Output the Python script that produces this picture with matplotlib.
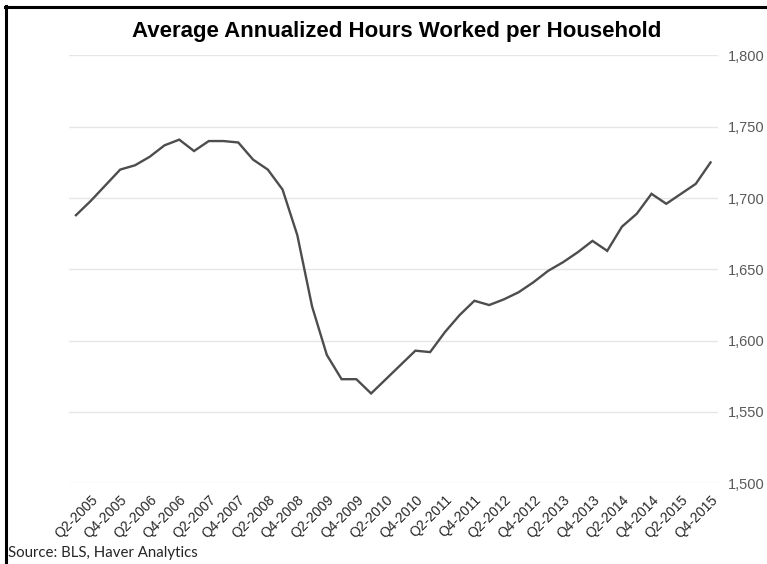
"""Average annualized hours worked per household, quarterly 2005-2015."""

import matplotlib
matplotlib.use("Agg")
import matplotlib.pyplot as plt
from matplotlib.lines import Line2D
from matplotlib.ticker import FuncFormatter

# quarterly values, Q1-2005 .. Q4-2015
quarters = [f"Q{q}-{y}" for y in range(2005, 2016) for q in range(1, 5)]
hours = [
    1688, 1698, 1709, 1720, 1723, 1729, 1737, 1741, 1733, 1740, 1740, 1739,
    1727, 1720, 1706, 1674, 1624, 1590, 1573, 1573, 1563, 1573, 1583, 1593,
    1592, 1606, 1618, 1628, 1625, 1629, 1634, 1641, 1649, 1655, 1662, 1670,
    1663, 1680, 1689, 1703, 1696, 1703, 1710, 1725,
]
y_ticks = [1500, 1550, 1600, 1650, 1700, 1750, 1800]

TITLE = "Average Annualized Hours Worked per Household"
SOURCE = "Source: BLS, Haver Analytics"

plt.rcParams["font.family"] = ["Liberation Sans", "DejaVu Sans"]

fig = plt.figure(figsize=(7.67, 5.64), dpi=100)
ax = fig.add_axes([0.0894, 0.1431, 0.8466, 0.7585])

x = list(range(len(hours)))
ax.plot(x, hours, color="#4d4d4d", linewidth=1.7, solid_joinstyle="miter")

ax.set_xlim(-0.5, len(hours) - 0.5)
ax.set_ylim(1500, 1800)
ax.set_yticks(y_ticks)
ax.yaxis.set_major_formatter(FuncFormatter(lambda v, _: f"{v:,.0f}"))
ax.yaxis.tick_right()
ax.grid(axis="y", color="#e6e6e6", linewidth=1.0)
ax.set_axisbelow(True)

label_idx = list(range(1, len(quarters), 2))
ax.set_xticks(label_idx)
ax.set_xticklabels([quarters[i] for i in label_idx], rotation=45, ha="right",
                   va="top", rotation_mode="anchor", fontsize=10, color="#262626")
ax.tick_params(axis="x", length=0, pad=7)
ax.tick_params(axis="y", length=0, pad=7, labelsize=10.5, labelcolor="#595959")
for side in ax.spines.values():
    side.set_visible(False)

fig.text(0.517, 0.944, TITLE, ha="center", va="center", fontsize=16,
         fontweight="bold", color="black")
fig.text(0.010, 0.019, SOURCE, ha="left", va="center", fontsize=10.8,
         color="#262626", family=["Lato", "DejaVu Sans"])

# frame drawn on left and top edges only (rest is cropped in the original)
fig.add_artist(Line2D([0.0075, 0.0075], [0.0, 0.9885], transform=fig.transFigure,
                      color="black", linewidth=2.2))
fig.add_artist(Line2D([0.0062, 1.0], [0.9875, 0.9875], transform=fig.transFigure,
                      color="black", linewidth=2.2))

fig.savefig("out.png", dpi=100, facecolor="white")
